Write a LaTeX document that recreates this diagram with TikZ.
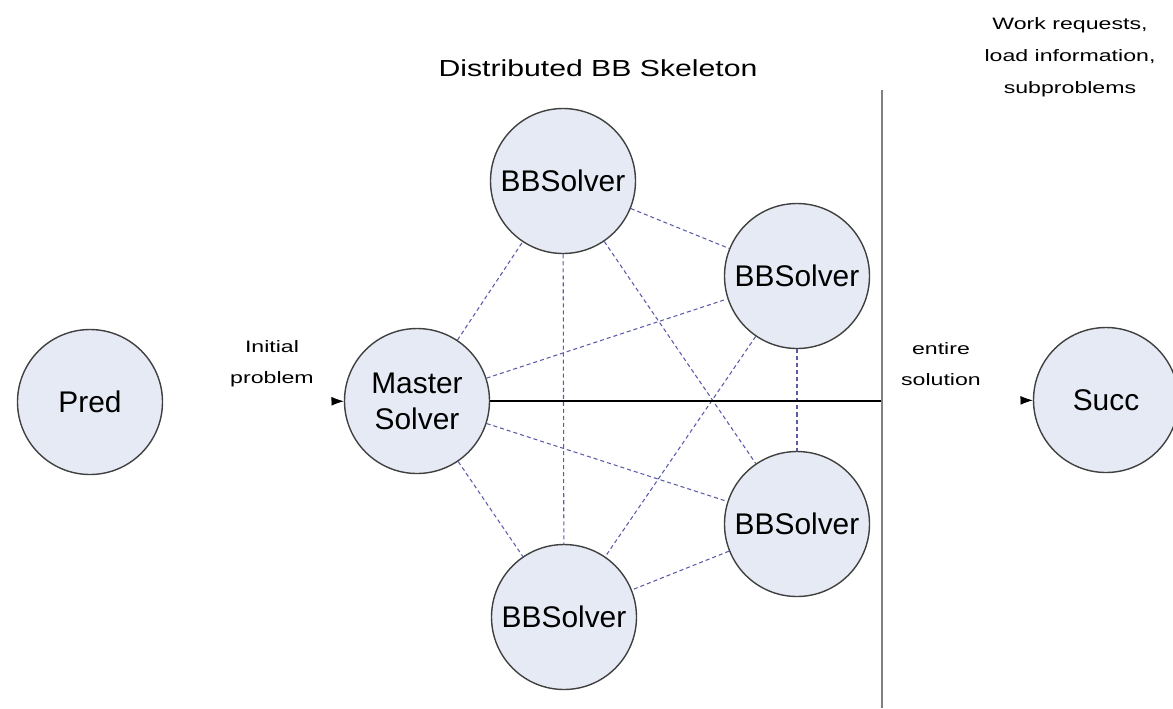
\documentclass[tikz,border=0pt]{standalone}
\usepackage{fontspec}
\setmainfont{Liberation Sans}
\usepackage{xcolor}
\usepackage{tikz}
\usetikzlibrary{arrows.meta}

\definecolor{nodefill}{HTML}{E6EAF4}
\definecolor{linkblue}{HTML}{5A5AA8}

\begin{document}
\begin{tikzpicture}[
    proc/.style = {circle, draw = black!75, line width = 0.8pt, fill = nodefill,
                   minimum size = 2.9cm, inner sep = 0pt,
                   font = \fontsize{17}{20.5}\selectfont, align = center},
    link/.style = {draw = linkblue, line width = 0.6pt, dash pattern = on 2.3pt off 1.7pt},
    note/.style = {font = \fontsize{9.4}{17.5}\selectfont, align = center,
                   xscale = 1.4, transform shape},
    hidden/.style = {draw = white, -{Latex[black, length = 7pt, width = 5pt]}}
]
        \useasboundingbox (0, 0) rectangle (23.46, -14.16);

        \node (1) at (1.8, -8.04) [proc] {Pred};
        \node (2) at (8.34, -8.02) [proc] {Master\\Solver};
        \node (3) at (11.26, -3.62) [proc] {BBSolver};
        \node (4) at (15.94, -5.52) [proc] {BBSolver};
        \node (5) at (15.94, -10.48) [proc] {BBSolver};
        \node (6) at (11.28, -12.34) [proc] {BBSolver};
        \node (7) at (22.12, -8.0) [proc] {Succ};

        \node (title) at (11.96, -1.36) [note, font = \fontsize{13.2}{16}\selectfont, xscale = 0.93] {Distributed BB Skeleton};
        \node (msgs) at (21.4, -1.14) [note, font = \fontsize{9.4}{18.2}\selectfont] {Work requests,\\load information,\\subproblems};
        \node (in) at (5.44, -7.28) [note] {Initial\\problem};
        \node (out) at (18.82, -7.28) [note] {entire\\solution};

        \coordinate (top) at (17.64, -1.8);
        \coordinate (bot) at (17.64, -14.16);
        \coordinate (split) at (17.64, -8.02);

        % input and output, only the heads show
        \draw [hidden] (1) -- (2);
        \draw [hidden] ([xshift = 2pt]split) -- (7);

        % all solvers talk to each other
        \draw [link] (2) edge (3);
        \draw [link] (2) edge (4);
        \draw [link] (2) edge (5);
        \draw [link] (2) edge (6);
        \draw [link] (3) edge (4);
        \draw [link] (3) edge (5);
        \draw [link] (3) edge (6);
        \draw [link] (4) edge (5);
        \draw [link] (4) edge (6);
        \draw [link] (5) edge (6);

        \draw [black, line width = 0.6pt] (2) -- (split);
        \draw [black!50, line width = 0.8pt] (top) -- (bot);
    \end{tikzpicture}
\end{document}
